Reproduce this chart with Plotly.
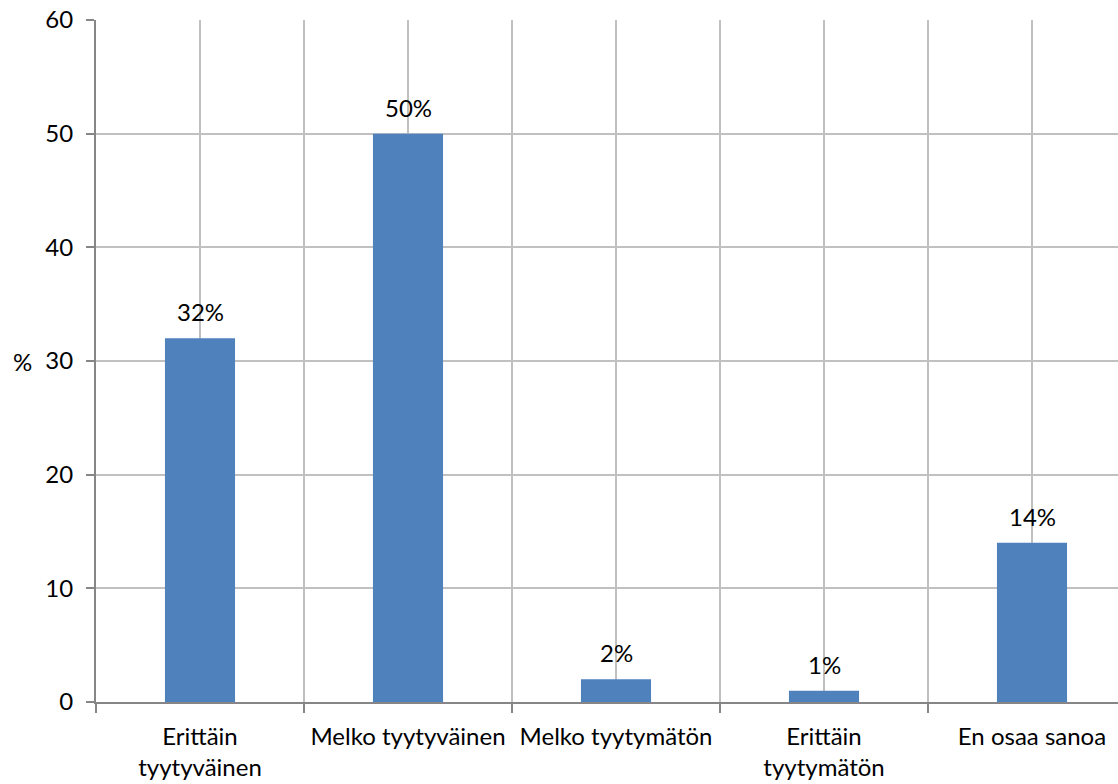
import plotly.graph_objects as go

categories = ["Erittäin<br>tyytyväinen", "Melko tyytyväinen", "Melko tyytymätön",
              "Erittäin<br>tyytymätön", "En osaa sanoa"]
values = [32, 50, 2, 1, 14]
labels = ["32%", "50%", "2%", "1%", "14%"]
y_ticks = [0, 10, 20, 30, 40, 50, 60]

FONT = "Lato"
FS = 24
GRID = "#C0C0C0"
AXIS = "#868686"

fig = go.Figure()
fig.add_trace(go.Bar(
    x=categories, y=values,
    marker=dict(color="#4F81BD", line=dict(width=0)),
    cliponaxis=False, width=0.337,
))
# invisible trace to anchor the center-grid axis
fig.add_trace(go.Scatter(x=[0], y=[0], xaxis="x2", mode="markers",
                         marker=dict(opacity=0), showlegend=False, hoverinfo="skip"))

annotations = [dict(text="%", xref="paper", yref="y", x=0, y=30, xshift=-74,
                    showarrow=False, xanchor="center", yanchor="middle",
                    font=dict(family=FONT, size=FS))]
for c, v, t in zip(categories, values, labels):
    annotations.append(dict(text=t, x=c, y=v, xref="x", yref="y", showarrow=False,
                            xanchor="center", yanchor="bottom", yshift=10,
                            font=dict(family=FONT, size=FS, color="#000000")))

xr = [-0.5, 4.5 - 18 / 208]
fig.update_layout(
    width=1118, height=784,
    margin=dict(l=96, r=0, t=20, b=82, autoexpand=False),
    plot_bgcolor="white", paper_bgcolor="white",
    showlegend=False,
    font=dict(family=FONT, size=FS, color="#000000"),
    xaxis=dict(
        type="category", range=xr, tickson="boundaries", tickangle=0, automargin=False,
        showgrid=True, gridcolor=GRID, gridwidth=1.5,
        showline=True, linecolor=AXIS, linewidth=2,
        ticks="outside", ticklen=9, tickcolor=AXIS, tickwidth=2,
        tickfont=dict(family=FONT, size=FS), zeroline=False,
        ticklabelstandoff=12,
    ),
    xaxis2=dict(
        overlaying="x", type="linear", range=xr, tickvals=[0, 1, 2, 3, 4],
        showgrid=True, gridcolor=GRID, gridwidth=1.5,
        showticklabels=False, ticks="", zeroline=False, showline=False,
        side="bottom",
    ),
    yaxis=dict(
        range=[0, 60], tickvals=y_ticks, showgrid=True, gridcolor=GRID, gridwidth=1.5,
        showline=True, linecolor=AXIS, linewidth=2, automargin=False,
        ticks="outside", ticklen=8, tickcolor=AXIS, tickwidth=2,
        tickfont=dict(family=FONT, size=FS), zeroline=False,
        ticklabelstandoff=8,
    ),
    bargap=0.663,
    annotations=annotations,
)

fig.write_html("out.html", config={"displayModeBar": False},
               post_script="document.body.style.margin='0';")
